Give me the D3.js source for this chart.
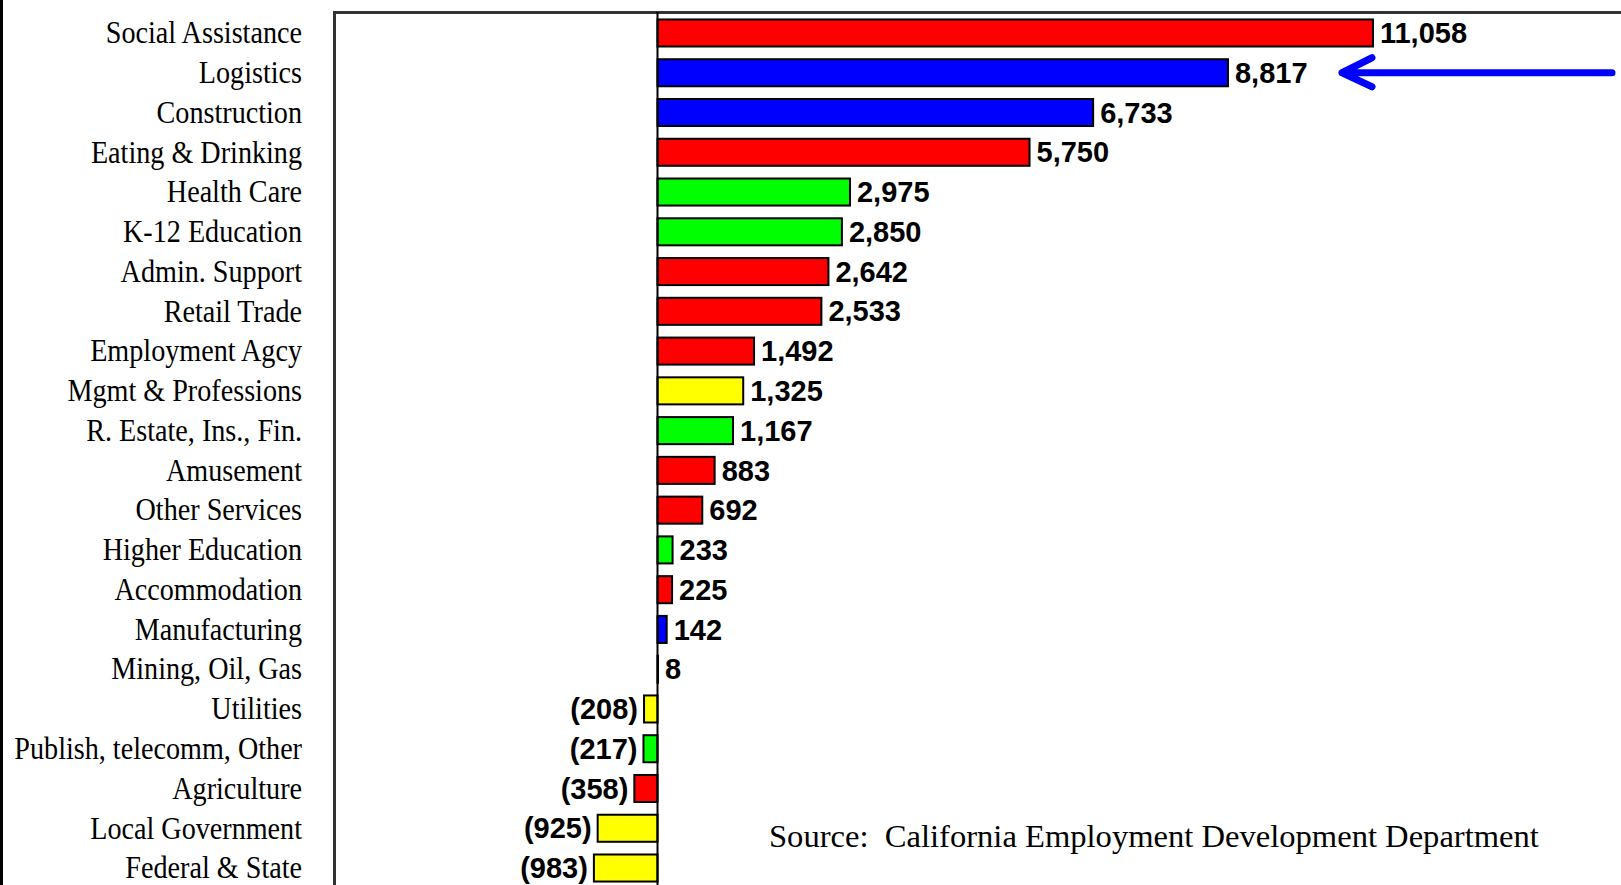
<!DOCTYPE html>
<html>
<head>
<meta charset="utf-8">
<script src="https://cdn.jsdelivr.net/npm/d3@7"></script>
<style>
  html, body { margin: 0; padding: 0; background: #fff; }
  svg { display: block; }
</style>
</head>
<body>
<div id="chart"></div>
<script>
// job change by sector
const sectors = [
  "Social Assistance", "Logistics", "Construction", "Eating & Drinking",
  "Health Care", "K-12 Education", "Admin. Support", "Retail Trade",
  "Employment Agcy", "Mgmt & Professions", "R. Estate, Ins., Fin.", "Amusement",
  "Other Services", "Higher Education", "Accommodation", "Manufacturing",
  "Mining, Oil, Gas", "Utilities", "Publish, telecomm, Other", "Agriculture",
  "Local Government", "Federal & State"
];
const jobs = [
  11058, 8817, 6733, 5750, 2975, 2850, 2642, 2533, 1492, 1325, 1167, 883,
  692, 233, 225, 142, 8, -208, -217, -358, -925, -983
];
const groups = [
  "red", "blue", "blue", "red", "green", "green", "red", "red", "red", "yellow",
  "green", "red", "red", "green", "red", "blue", "blue", "yellow", "green", "red",
  "yellow", "yellow"
];
const highlighted = ["Logistics"];
const sourceNote = "Source:  California Employment Development Department";

(function() {
  const W = 1621, H = 885;
  const zeroX = 657.5;
  const pxPerJob = 0.0647;
  const colorOf = { red: "#ff0000", blue: "#0000ff", green: "#00ff00", yellow: "#ffff00" };
  const fmt = d3.format(",");
  const label = v => v < 0 ? `(${fmt(-v)})` : fmt(v);

  const data = sectors.map((s, i) => ({ name: s, value: jobs[i], group: groups[i] }));

  const x = d3.scaleLinear()
    .domain([0, 11000])
    .range([zeroX, zeroX + pxPerJob * 11000]);

  const y = d3.scaleBand()
    .domain(sectors)
    .range([13.1, 887.9])
    .paddingInner(0.32)
    .paddingOuter(0.16);

  const svg = d3.select("#chart").append("svg")
    .attr("width", W)
    .attr("height", H);

  // black strip on the left edge
  svg.append("rect")
    .attr("x", 0).attr("y", 0)
    .attr("width", 3).attr("height", H)
    .attr("fill", "#000");

  // plot frame (runs off the right and bottom)
  svg.append("rect")
    .attr("x", 334.5).attr("y", 12.5)
    .attr("width", W).attr("height", H)
    .attr("fill", "none")
    .attr("stroke", "#333")
    .attr("stroke-width", 3);

  // bars
  svg.append("g")
    .attr("stroke", "#000")
    .attr("stroke-width", 2)
    .selectAll("rect")
    .data(data)
    .join("rect")
      .attr("x", d => Math.min(x(0), x(d.value)))
      .attr("y", d => y(d.name))
      .attr("width", d => Math.abs(x(d.value) - x(0)))
      .attr("height", y.bandwidth())
      .attr("fill", d => colorOf[d.group]);

  // zero line
  svg.append("line")
    .attr("x1", x(0)).attr("x2", x(0))
    .attr("y1", 12).attr("y2", H)
    .attr("stroke", "#000")
    .attr("stroke-width", 2);

  // value labels
  svg.append("g")
    .attr("font-family", "'Liberation Sans', Arial, sans-serif")
    .attr("font-weight", "bold")
    .attr("font-size", 29)
    .attr("fill", "#000")
    .selectAll("text")
    .data(data)
    .join("text")
      .attr("x", d => d.value < 0 ? x(d.value) - 6 : x(d.value) + 7)
      .attr("y", d => y(d.name) + y.bandwidth() / 2)
      .attr("dy", "0.35em")
      .attr("text-anchor", d => d.value < 0 ? "end" : "start")
      .text(d => label(d.value));

  // category labels, narrow serif
  svg.append("g")
    .attr("font-family", "'Liberation Serif', 'Times New Roman', serif")
    .attr("font-size", 32)
    .attr("fill", "#000")
    .selectAll("text")
    .data(data)
    .join("text")
      .attr("transform", d => `translate(302,${y(d.name) + y.bandwidth() / 2}) scale(0.88,1)`)
      .attr("dy", "0.32em")
      .attr("text-anchor", "end")
      .text(d => d.name);

  // arrow pointing at the highlighted bar
  const ay = y(highlighted[0]) + y.bandwidth() / 2;
  const tipX = 1342;
  svg.append("path")
    .attr("d", `M${W - 9},${ay}H${tipX}M${tipX + 30},${ay - 15}L${tipX},${ay}L${tipX + 30},${ay + 14}`)
    .attr("fill", "none")
    .attr("stroke", "#0000ff")
    .attr("stroke-width", 7)
    .attr("stroke-linecap", "round")
    .attr("stroke-linejoin", "round");

  // source note
  svg.append("text")
    .attr("x", 769)
    .attr("y", 847)
    .attr("font-family", "'Liberation Serif', 'Times New Roman', serif")
    .attr("font-size", 32.6)
    .attr("fill", "#000")
    .style("white-space", "pre")
    .text(sourceNote);
})();
</script>
</body>
</html>
